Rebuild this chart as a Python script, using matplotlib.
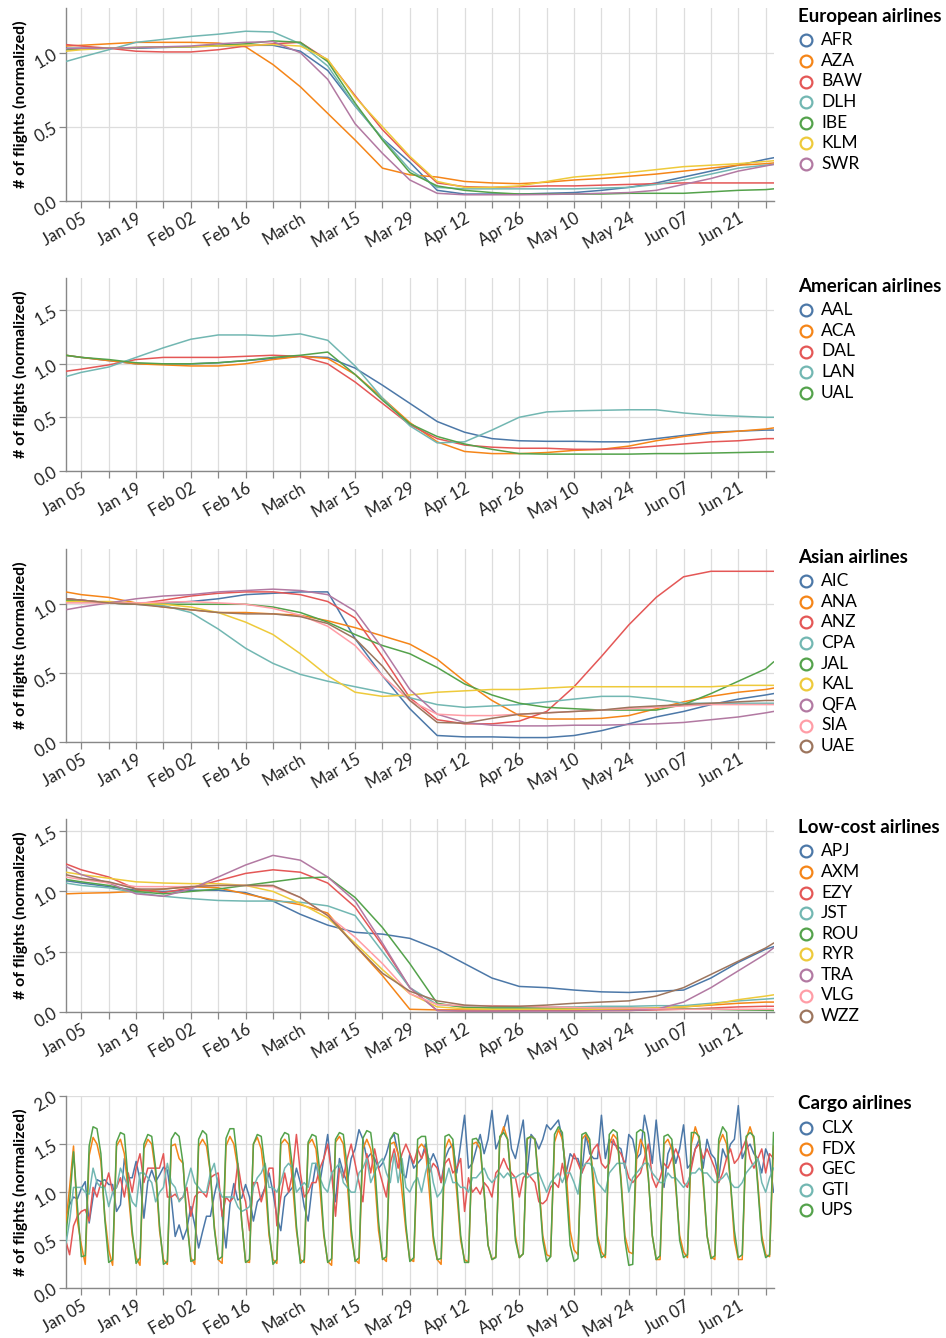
import numpy as np
import matplotlib
matplotlib.use("Agg")
import matplotlib.pyplot as plt
import matplotlib.dates as mdates
from matplotlib.lines import Line2D

plt.rcParams['font.family'] = ['Lato', 'DejaVu Sans']

# ---------------- DATA ----------------
# weekly sample dates (smoothed series)
SAMPLE_DATES = ['2020-01-01', '2020-01-05', '2020-01-12', '2020-01-19', '2020-01-26',
                '2020-02-02', '2020-02-09', '2020-02-16', '2020-02-23', '2020-03-01',
                '2020-03-08', '2020-03-15', '2020-03-22', '2020-03-29', '2020-04-05',
                '2020-04-12', '2020-04-19', '2020-04-26', '2020-05-03', '2020-05-10',
                '2020-05-17', '2020-05-24', '2020-05-31', '2020-06-07', '2020-06-14',
                '2020-06-21', '2020-06-28', '2020-06-30']

# European airlines
AFR = [1.03, 1.03, 1.03, 1.03, 1.035, 1.04, 1.045, 1.05, 1.05, 1.01, 0.88, 0.64, 0.42, 0.26, 0.07, 0.045, 0.045, 0.045, 0.05, 0.055, 0.07, 0.09, 0.12, 0.16, 0.20, 0.24, 0.28, 0.29]
AZA = [1.045, 1.05, 1.06, 1.07, 1.07, 1.07, 1.065, 1.04, 0.92, 0.77, 0.59, 0.41, 0.22, 0.175, 0.16, 0.13, 0.12, 0.115, 0.125, 0.14, 0.15, 0.165, 0.18, 0.20, 0.22, 0.24, 0.25, 0.255]
BAW = [1.055, 1.045, 1.03, 1.01, 1.005, 1.005, 1.02, 1.045, 1.06, 1.07, 0.95, 0.71, 0.48, 0.29, 0.12, 0.095, 0.09, 0.095, 0.10, 0.10, 0.105, 0.11, 0.115, 0.12, 0.12, 0.12, 0.12, 0.12]
DLH = [0.94, 0.97, 1.02, 1.07, 1.09, 1.11, 1.125, 1.145, 1.14, 1.06, 0.91, 0.64, 0.42, 0.21, 0.09, 0.08, 0.08, 0.08, 0.08, 0.08, 0.085, 0.09, 0.11, 0.14, 0.18, 0.22, 0.24, 0.245]
IBE = [1.02, 1.025, 1.03, 1.035, 1.04, 1.04, 1.05, 1.06, 1.08, 1.07, 0.94, 0.66, 0.41, 0.19, 0.10, 0.07, 0.055, 0.045, 0.045, 0.045, 0.045, 0.05, 0.05, 0.05, 0.06, 0.07, 0.075, 0.08]
KLM = [1.01, 1.02, 1.03, 1.035, 1.04, 1.04, 1.045, 1.05, 1.055, 1.045, 0.955, 0.70, 0.50, 0.30, 0.13, 0.09, 0.09, 0.10, 0.13, 0.16, 0.175, 0.19, 0.21, 0.23, 0.24, 0.25, 0.265, 0.27]
SWR = [1.027, 1.03, 1.03, 1.035, 1.04, 1.045, 1.06, 1.07, 1.075, 1.0, 0.82, 0.52, 0.32, 0.14, 0.05, 0.04, 0.04, 0.04, 0.042, 0.045, 0.05, 0.055, 0.07, 0.11, 0.15, 0.20, 0.235, 0.245]

# American airlines
AAL = [1.08, 1.06, 1.03, 1.0, 1.0, 1.0, 1.01, 1.03, 1.05, 1.07, 1.06, 0.96, 0.80, 0.63, 0.46, 0.36, 0.30, 0.28, 0.275, 0.275, 0.27, 0.27, 0.30, 0.33, 0.36, 0.37, 0.38, 0.38]
ACA = [1.08, 1.06, 1.03, 1.0, 0.99, 0.98, 0.98, 1.0, 1.04, 1.07, 1.05, 0.90, 0.68, 0.45, 0.27, 0.18, 0.16, 0.16, 0.17, 0.19, 0.20, 0.23, 0.28, 0.32, 0.35, 0.37, 0.39, 0.40]
DAL = [0.93, 0.95, 0.99, 1.04, 1.06, 1.06, 1.06, 1.07, 1.08, 1.07, 1.0, 0.83, 0.63, 0.43, 0.30, 0.24, 0.22, 0.21, 0.21, 0.20, 0.20, 0.21, 0.23, 0.25, 0.27, 0.28, 0.30, 0.30]
LAN = [0.88, 0.92, 0.97, 1.06, 1.15, 1.23, 1.27, 1.27, 1.26, 1.28, 1.22, 0.98, 0.68, 0.42, 0.26, 0.27, 0.38, 0.50, 0.55, 0.56, 0.565, 0.57, 0.57, 0.54, 0.52, 0.51, 0.50, 0.50]
UAL = [1.08, 1.06, 1.04, 1.01, 1.0, 1.0, 1.01, 1.03, 1.06, 1.08, 1.11, 0.90, 0.66, 0.44, 0.32, 0.25, 0.20, 0.16, 0.155, 0.155, 0.155, 0.155, 0.16, 0.16, 0.165, 0.17, 0.175, 0.175]

# Asian airlines
AIC = [1.04, 1.03, 1.01, 1.0, 1.01, 1.02, 1.04, 1.07, 1.08, 1.09, 1.09, 0.75, 0.48, 0.24, 0.045, 0.035, 0.035, 0.03, 0.03, 0.045, 0.08, 0.13, 0.18, 0.22, 0.27, 0.31, 0.34, 0.35]
ANA = [1.09, 1.07, 1.05, 1.01, 0.98, 0.96, 0.94, 0.94, 0.93, 0.92, 0.88, 0.83, 0.77, 0.71, 0.60, 0.44, 0.30, 0.19, 0.165, 0.165, 0.17, 0.19, 0.24, 0.29, 0.33, 0.36, 0.38, 0.39]
ANZ = [1.04, 1.03, 1.01, 1.0, 1.03, 1.06, 1.08, 1.09, 1.09, 1.07, 1.02, 0.90, 0.62, 0.32, 0.16, 0.13, 0.13, 0.15, 0.22, 0.40, 0.62, 0.85, 1.05, 1.20, 1.24, 1.24, 1.24, 1.24]
CPA = [1.02, 1.02, 1.01, 1.0, 0.99, 0.94, 0.82, 0.68, 0.57, 0.49, 0.44, 0.40, 0.36, 0.32, 0.27, 0.25, 0.26, 0.27, 0.29, 0.31, 0.33, 0.33, 0.31, 0.28, 0.28, 0.28, 0.28, 0.28]
JAL = [1.03, 1.02, 1.01, 1.0, 1.0, 1.0, 1.0, 1.0, 0.98, 0.94, 0.87, 0.78, 0.70, 0.64, 0.54, 0.42, 0.34, 0.28, 0.25, 0.24, 0.23, 0.23, 0.23, 0.27, 0.35, 0.44, 0.53, 0.58]
KAL = [1.02, 1.02, 1.02, 1.01, 1.0, 0.98, 0.94, 0.87, 0.78, 0.64, 0.48, 0.36, 0.33, 0.34, 0.36, 0.37, 0.38, 0.38, 0.39, 0.40, 0.40, 0.40, 0.40, 0.40, 0.40, 0.41, 0.41, 0.41]
QFA = [0.96, 0.98, 1.01, 1.04, 1.06, 1.07, 1.09, 1.10, 1.11, 1.10, 1.07, 0.95, 0.68, 0.38, 0.20, 0.14, 0.12, 0.115, 0.115, 0.12, 0.12, 0.125, 0.13, 0.14, 0.16, 0.18, 0.21, 0.22]
SIA = [1.01, 1.01, 1.01, 1.01, 1.015, 1.02, 1.01, 1.0, 0.97, 0.92, 0.84, 0.70, 0.48, 0.30, 0.20, 0.19, 0.19, 0.20, 0.21, 0.22, 0.23, 0.24, 0.25, 0.26, 0.27, 0.27, 0.27, 0.27]
UAE = [1.04, 1.03, 1.01, 1.0, 0.98, 0.96, 0.94, 0.93, 0.93, 0.91, 0.86, 0.75, 0.55, 0.30, 0.14, 0.135, 0.17, 0.20, 0.21, 0.22, 0.23, 0.25, 0.26, 0.27, 0.28, 0.29, 0.30, 0.30]

# Low-cost airlines
APJ = [1.09, 1.07, 1.04, 1.01, 1.0, 1.01, 1.01, 0.99, 0.92, 0.81, 0.72, 0.66, 0.645, 0.61, 0.52, 0.40, 0.28, 0.21, 0.20, 0.18, 0.165, 0.16, 0.17, 0.18, 0.28, 0.41, 0.52, 0.54]
AXM = [0.98, 0.985, 0.99, 1.0, 1.02, 1.04, 1.03, 0.98, 0.93, 0.89, 0.82, 0.55, 0.30, 0.02, 0.015, 0.015, 0.015, 0.015, 0.015, 0.015, 0.02, 0.02, 0.03, 0.04, 0.055, 0.07, 0.08, 0.08]
EZY = [1.23, 1.18, 1.12, 1.02, 0.99, 1.03, 1.09, 1.15, 1.18, 1.16, 1.07, 0.87, 0.55, 0.20, 0.01, 0.005, 0.005, 0.008, 0.01, 0.01, 0.01, 0.01, 0.015, 0.02, 0.03, 0.04, 0.045, 0.045]
JST = [1.07, 1.05, 1.03, 0.99, 0.96, 0.94, 0.925, 0.92, 0.92, 0.91, 0.88, 0.80, 0.50, 0.20, 0.06, 0.04, 0.035, 0.035, 0.04, 0.04, 0.045, 0.045, 0.05, 0.05, 0.07, 0.09, 0.105, 0.11]
ROU = [1.10, 1.08, 1.05, 1.0, 0.98, 1.0, 1.02, 1.05, 1.08, 1.11, 1.12, 0.95, 0.70, 0.40, 0.07, 0.035, 0.03, 0.03, 0.03, 0.03, 0.03, 0.03, 0.028, 0.025, 0.02, 0.015, 0.012, 0.01]
RYR = [1.16, 1.14, 1.11, 1.08, 1.07, 1.065, 1.065, 1.05, 1.0, 0.90, 0.78, 0.57, 0.35, 0.15, 0.04, 0.025, 0.02, 0.02, 0.02, 0.02, 0.022, 0.025, 0.03, 0.04, 0.06, 0.10, 0.13, 0.14]
TRA = [1.21, 1.14, 1.07, 0.98, 0.96, 1.02, 1.12, 1.22, 1.30, 1.26, 1.12, 0.92, 0.57, 0.20, 0.01, 0.005, 0.005, 0.005, 0.005, 0.005, 0.008, 0.01, 0.02, 0.08, 0.20, 0.34, 0.48, 0.53]
VLG = [1.12, 1.10, 1.07, 1.04, 1.04, 1.04, 1.05, 1.05, 1.04, 0.95, 0.80, 0.62, 0.40, 0.15, 0.06, 0.05, 0.05, 0.045, 0.04, 0.035, 0.03, 0.03, 0.025, 0.02, 0.02, 0.02, 0.02, 0.02]
WZZ = [1.14, 1.11, 1.08, 1.02, 1.02, 1.04, 1.05, 1.05, 1.05, 0.95, 0.80, 0.55, 0.32, 0.17, 0.09, 0.055, 0.045, 0.045, 0.055, 0.07, 0.08, 0.09, 0.13, 0.20, 0.31, 0.42, 0.53, 0.57]

# Cargo airlines: daily values, 2020-01-01 .. 2020-06-30
CARGO_START = '2020-01-01'
CARGO_END = '2020-07-01'
CLX = [0.75, 0.87, 0.95, 0.93, 1.04, 1.11, 0.68,
       0.95, 1.13, 1.11, 1.13, 1.08, 1.08, 0.80,
       0.87, 1.35, 1.15, 1.15, 1.32, 1.13, 0.73,
       1.11, 1.23, 1.11, 1.18, 1.26, 1.23, 0.94,
       0.54, 0.66, 0.51, 0.62, 0.85, 0.66, 0.42,
       0.59, 0.75, 0.75, 0.97, 1.15, 0.76, 0.42,
       0.87, 1.09, 0.92, 0.94, 1.08, 0.95, 0.70,
       0.90, 0.95, 1.05, 1.20, 1.00, 0.75, 0.60,
       0.95, 1.00, 1.05, 1.25, 1.10, 0.85, 0.70,
       1.05, 1.30, 1.10, 1.35, 1.60, 1.20, 0.90,
       1.35, 1.20, 1.10, 1.35, 1.45, 1.65, 1.55,
       1.35, 1.40, 1.35, 1.25, 1.30, 1.40, 1.55,
       1.60, 1.40, 1.20, 1.15, 1.40, 1.25, 1.30,
       1.35, 1.50, 1.30, 1.40, 1.30, 1.10, 1.35,
       1.45, 1.50, 1.20, 1.50, 1.80, 1.25, 1.30,
       1.45, 1.60, 1.40, 1.55, 1.85, 1.45, 1.55,
       1.65, 1.80, 1.45, 1.35, 1.55, 1.75, 1.20,
       1.60, 1.55, 1.45, 1.55, 1.70, 1.65, 1.70,
       1.75, 1.55, 1.20, 1.40, 1.35, 1.35, 1.20,
       1.60, 1.40, 1.35, 1.35, 1.80, 1.35, 1.55,
       1.50, 1.48, 1.45, 1.25, 1.60, 1.55, 1.35,
       1.40, 1.80, 1.60, 1.30, 1.75, 1.35, 1.05,
       1.40, 1.50, 1.30, 1.45, 1.70, 1.25, 1.30,
       1.45, 1.55, 1.25, 1.55, 1.40, 1.35, 1.15,
       1.45, 1.35, 1.50, 1.55, 1.90, 1.35, 1.45,
       1.50, 1.40, 1.35, 1.20, 1.45, 1.35, 1.00]
FDX = [0.66, 1.05, 1.48, 0.70,
       0.45, 0.25, 1.38, 1.57, 1.50, 1.32, 0.75,
       0.40, 0.24, 1.48, 1.55, 1.40, 1.00, 0.55,
       0.32, 0.24, 1.45, 1.55, 1.50, 1.20, 0.60,
       0.30, 0.25, 1.48, 1.50, 1.35, 1.30, 0.70,
       0.32, 0.25, 1.48, 1.55, 1.48, 1.20, 0.65,
       0.30, 0.26, 1.48, 1.58, 1.50, 1.25, 0.70,
       0.28, 0.27, 1.50, 1.57, 1.45, 1.10, 0.55,
       0.30, 0.26, 1.50, 1.55, 1.50, 1.10, 0.60,
       0.30, 0.27, 1.50, 1.55, 1.45, 1.05, 0.55,
       0.28, 0.24, 1.52, 1.58, 1.50, 1.10, 0.55,
       0.30, 0.26, 1.45, 1.55, 1.45, 1.15, 0.60,
       0.32, 0.28, 1.50, 1.52, 1.40, 1.00, 0.60,
       0.30, 0.28, 1.45, 1.50, 1.45, 1.00, 0.50,
       0.30, 0.25, 1.45, 1.55, 1.45, 1.00, 0.50,
       0.30, 0.27, 1.50, 1.52, 1.45, 1.00, 0.45,
       0.30, 0.33, 1.55, 1.68, 1.55, 1.10, 0.55,
       0.32, 0.36, 1.55, 1.58, 1.55, 1.10, 0.55,
       0.35, 0.33, 1.52, 1.65, 1.55, 1.20, 0.60,
       0.40, 0.35, 1.55, 1.60, 1.50, 1.15, 0.55,
       0.38, 0.32, 1.50, 1.60, 1.55, 1.15, 0.55,
       0.38, 0.36, 1.35, 1.55, 1.45, 1.15, 0.55,
       0.30, 0.30, 1.50, 1.55, 1.45, 1.05, 0.55,
       0.38, 0.32, 1.50, 1.68, 1.55, 1.10, 0.55,
       0.33, 0.30, 1.50, 1.60, 1.50, 1.10, 0.50,
       0.30, 0.30, 1.55, 1.68, 1.55, 1.10, 0.55,
       0.35, 0.33, 1.48]
GEC = [0.50, 0.35, 0.65, 0.75, 0.80, 0.82, 0.70,
       1.05, 0.95, 1.10, 1.05, 1.20, 1.00, 1.05,
       1.15, 0.95, 1.20, 1.00, 1.25, 1.40, 1.10,
       1.25, 1.25, 1.25, 1.25, 1.40, 0.95, 0.95,
       0.98, 0.92, 0.95, 1.05, 0.75, 0.95, 1.00,
       1.00, 0.95, 1.15, 1.18, 1.20, 0.75, 0.95,
       0.90, 0.95, 1.30, 1.05, 0.90, 0.60, 1.10,
       1.10, 0.90, 1.05, 1.25, 1.25, 0.65, 0.95,
       1.20, 1.00, 1.20, 1.60, 1.20, 0.95, 1.00,
       1.10, 1.10, 1.25, 1.35, 1.50, 1.20, 0.75,
       1.25, 1.15, 1.35, 1.50, 1.30, 1.10, 0.90,
       1.40, 1.20, 1.45, 1.25, 1.10, 0.95, 1.30,
       1.45, 1.25, 1.40, 1.50, 1.40, 1.30, 1.45,
       1.35, 1.45, 1.20, 1.30, 1.25, 1.10, 1.30,
       1.35, 1.20, 1.25, 1.35, 0.80, 1.15, 1.00,
       1.05, 0.98, 1.10, 1.05, 0.95, 1.20, 1.25,
       1.35, 1.25, 1.20, 1.15, 0.95, 1.15, 1.20,
       1.15, 1.10, 0.90, 0.88, 0.92, 1.05, 1.10,
       1.05, 1.30, 1.10, 1.25, 1.40, 1.30, 1.20,
       1.30, 1.35, 1.45, 1.50, 1.30, 1.25, 1.30,
       1.55, 1.45, 1.40, 1.30, 1.15, 1.10, 1.15,
       1.20, 1.35, 1.50, 1.15, 1.05, 1.15, 1.30,
       1.25, 1.35, 1.45, 1.35, 1.10, 1.05, 1.25,
       1.45, 1.50, 1.35, 1.45, 1.35, 1.25, 1.10,
       1.20, 1.35, 1.45, 1.30, 1.35, 1.45, 1.55,
       1.35, 1.25, 1.35, 1.45, 1.20, 1.40, 1.35]
GTI = [0.45, 0.70, 1.05, 1.05, 1.05, 1.00, 0.98,
       1.25, 1.10, 1.05, 1.05, 0.85, 1.00, 1.05,
       1.25, 1.15, 1.05, 0.90, 0.85, 1.20, 1.20,
       1.15, 1.10, 0.90, 1.00, 1.05, 1.30, 1.10,
       1.05, 0.90, 0.95, 1.10, 1.25, 1.10, 1.05,
       1.00, 1.00, 1.20, 1.30, 1.05, 0.95, 0.95,
       0.95, 0.95, 0.85, 0.80, 0.82, 0.85, 1.05,
       1.15, 1.20, 1.30, 1.05, 1.05, 1.00, 1.10,
       1.25, 1.30, 1.25, 1.00, 1.05, 1.10, 1.05,
       1.30, 1.30, 1.15, 1.05, 1.00, 1.20, 1.25,
       1.30, 1.10, 1.05, 1.00, 1.00, 1.20, 1.25,
       1.35, 1.10, 1.20, 1.30, 1.35, 1.20, 1.10,
       1.40, 1.10, 1.35, 1.05, 1.00, 1.10, 1.15,
       1.00, 1.20, 1.35, 1.10, 0.95, 1.00, 1.10,
       1.25, 1.10, 1.10, 1.05, 1.05, 1.00, 1.15,
       1.15, 1.20, 1.25, 1.15, 1.10, 1.15, 1.20,
       1.15, 1.20, 1.15, 1.15, 1.18, 1.20, 1.15,
       1.18, 1.20, 1.20, 1.10, 1.00, 1.10, 1.15,
       1.20, 1.10, 1.20, 1.20, 1.10, 0.98, 1.25,
       1.30, 1.30, 1.25, 1.10, 1.05, 1.00, 1.20,
       1.25, 1.30, 1.30, 1.30, 1.00, 1.15, 1.20,
       1.25, 1.30, 1.30, 1.20, 1.15, 1.10, 1.10,
       1.20, 1.15, 1.15, 1.10, 1.05, 1.10, 1.20,
       1.20, 1.25, 1.20, 1.20, 1.15, 1.10, 1.12,
       1.15, 1.20, 1.10, 1.05, 1.05, 1.10, 1.20,
       1.25, 1.30, 1.35, 1.10, 1.00, 1.15, 1.25]
UPS = [0.55, 0.90, 1.42, 0.85,
       0.33, 0.34, 1.48, 1.68, 1.66, 1.40, 0.72,
       0.27, 0.30, 1.52, 1.62, 1.60, 1.10, 0.60,
       0.26, 0.32, 1.50, 1.60, 1.58, 1.25, 0.65,
       0.25, 0.28, 1.55, 1.62, 1.58, 1.30, 0.70,
       0.28, 0.30, 1.55, 1.64, 1.60, 1.20, 0.62,
       0.30, 0.33, 1.56, 1.66, 1.66, 1.30, 0.70,
       0.27, 0.30, 1.50, 1.60, 1.58, 1.25, 0.60,
       0.25, 0.30, 1.55, 1.62, 1.60, 1.25, 0.65,
       0.26, 0.30, 1.52, 1.60, 1.58, 1.20, 0.58,
       0.27, 0.31, 1.55, 1.62, 1.60, 1.25, 0.62,
       0.28, 0.32, 1.56, 1.64, 1.62, 1.30, 0.70,
       0.30, 0.33, 1.55, 1.62, 1.60, 1.25, 0.66,
       0.28, 0.32, 1.55, 1.58, 1.58, 1.20, 0.55,
       0.30, 0.31, 1.58, 1.60, 1.55, 1.10, 0.55,
       0.27, 0.27, 1.55, 1.56, 1.50, 1.00, 0.45,
       0.30, 0.32, 1.58, 1.62, 1.55, 1.05, 0.50,
       0.32, 0.36, 1.56, 1.58, 1.55, 1.05, 0.50,
       0.28, 0.33, 1.60, 1.68, 1.62, 1.05, 0.45,
       0.28, 0.31, 1.60, 1.62, 1.55, 1.00, 0.50,
       0.32, 0.35, 1.60, 1.65, 1.62, 1.10, 0.50,
       0.24, 0.25, 1.62, 1.65, 1.62, 1.15, 0.55,
       0.30, 0.34, 1.58, 1.60, 1.55, 1.10, 0.50,
       0.32, 0.35, 1.62, 1.62, 1.58, 1.15, 0.55,
       0.31, 0.34, 1.55, 1.68, 1.62, 1.10, 0.60,
       0.32, 0.35, 1.58, 1.62, 1.58, 1.05, 0.50,
       0.32, 0.35, 1.62]

# panel definitions
PANEL_TITLES = ['European airlines', 'American airlines', 'Asian airlines',
                'Low-cost airlines', 'Cargo airlines']
PANEL_CODES = [['AFR', 'AZA', 'BAW', 'DLH', 'IBE', 'KLM', 'SWR'],
               ['AAL', 'ACA', 'DAL', 'LAN', 'UAL'],
               ['AIC', 'ANA', 'ANZ', 'CPA', 'JAL', 'KAL', 'QFA', 'SIA', 'UAE'],
               ['APJ', 'AXM', 'EZY', 'JST', 'ROU', 'RYR', 'TRA', 'VLG', 'WZZ'],
               ['CLX', 'FDX', 'GEC', 'GTI', 'UPS']]
PANEL_SERIES = [[AFR, AZA, BAW, DLH, IBE, KLM, SWR],
                [AAL, ACA, DAL, LAN, UAL],
                [AIC, ANA, ANZ, CPA, JAL, KAL, QFA, SIA, UAE],
                [APJ, AXM, EZY, JST, ROU, RYR, TRA, VLG, WZZ],
                [CLX, FDX, GEC, GTI, UPS]]
PANEL_YMAX = [1.3, 1.8, 1.4, 1.6, 2.0]
PANEL_YTICKS = [[0.0, 0.5, 1.0], [0.0, 0.5, 1.0, 1.5], [0.0, 0.5, 1.0],
                [0.0, 0.5, 1.0, 1.5], [0.0, 0.5, 1.0, 1.5, 2.0]]

# x ticks (weekly, labelled every two weeks)
TICK_DATES = ['2020-01-05', '2020-01-12', '2020-01-19', '2020-01-26', '2020-02-02',
              '2020-02-09', '2020-02-16', '2020-02-23', '2020-03-01', '2020-03-08',
              '2020-03-15', '2020-03-22', '2020-03-29', '2020-04-05', '2020-04-12',
              '2020-04-19', '2020-04-26', '2020-05-03', '2020-05-10', '2020-05-17',
              '2020-05-24', '2020-05-31', '2020-06-07', '2020-06-14', '2020-06-21',
              '2020-06-28']
TICK_LABELS = ['Jan 05', '', 'Jan 19', '', 'Feb 02', '', 'Feb 16', '', 'March', '',
               'Mar 15', '', 'Mar 29', '', 'Apr 12', '', 'Apr 26', '', 'May 10', '',
               'May 24', '', 'Jun 07', '', 'Jun 21', '']

COLORS = ['#4c78a8', '#f58518', '#e45756', '#72b7b2', '#54a24b',
          '#eeca3b', '#b279a2', '#ff9da6', '#9d755d', '#bab0ac']

# ---------------- PLOT ----------------
W, H = 946, 1338
fig = plt.figure(figsize=(W / 100, H / 100), dpi=100)

PLOT_LEFT, PLOT_RIGHT = 65.7, 773.5
PANEL_TOPS = [8.3, 278.3, 549.3, 819.3, 1096.0]
PANEL_H = 192.4

smooth_x = mdates.date2num(np.array(SAMPLE_DATES, dtype='datetime64[D]'))
daily_x = mdates.date2num(np.arange(np.datetime64(CARGO_START), np.datetime64(CARGO_END),
                                    dtype='datetime64[D]'))
tick_x = mdates.date2num(np.array(TICK_DATES, dtype='datetime64[D]'))
xmin = mdates.date2num(np.datetime64('2020-01-01'))
xmax = mdates.date2num(np.datetime64('2020-06-30'))

GRID = '#dddddd'
AXC = '#888888'

for i in range(5):
    top = PANEL_TOPS[i]
    ax = fig.add_axes([PLOT_LEFT / W, 1 - (top + PANEL_H) / H,
                       (PLOT_RIGHT - PLOT_LEFT) / W, PANEL_H / H])
    xs = daily_x if i == 4 else smooth_x
    for j, series in enumerate(PANEL_SERIES[i]):
        ax.plot(xs, series, color=COLORS[j], lw=1.1, solid_joinstyle='round', zorder=3)
    ax.set_xlim(xmin, xmax)
    ax.set_ylim(0, PANEL_YMAX[i])
    ax.set_xticks(tick_x)
    ax.set_xticklabels(TICK_LABELS)
    ax.set_yticks(PANEL_YTICKS[i])
    ax.set_yticklabels(['%.1f' % v for v in PANEL_YTICKS[i]])
    ax.grid(True, color=GRID, lw=0.9, zorder=0)
    ax.set_axisbelow(True)
    for s in ['top', 'right']:
        ax.spines[s].set_visible(False)
    for s in ['left', 'bottom']:
        ax.spines[s].set_color(AXC)
        ax.spines[s].set_linewidth(1.0)
    ax.tick_params(axis='both', color=AXC, length=5, width=0.9, labelsize=12,
                   labelcolor='#222222', pad=2)
    for lab in ax.get_xticklabels():
        lab.set_rotation(30)
        lab.set_ha('right')
        lab.set_va('top')
        lab.set_rotation_mode('anchor')
    for lab in ax.get_yticklabels():
        lab.set_rotation(30)
        lab.set_ha('right')
        lab.set_va('center')
        lab.set_rotation_mode('anchor')

    # y-axis title
    fig.text(20 / W, 1 - (top + PANEL_H / 2) / H, '# of flights (normalized)',
             rotation=90, ha='center', va='center', fontsize=11.5, fontweight='bold',
             color='#000000')

    # legend
    fig.text(798 / W, 1 - (top + 8) / H, PANEL_TITLES[i], ha='left', va='center',
             fontsize=13.5, fontweight='bold', color='#000000')
    for j, code in enumerate(PANEL_CODES[i]):
        yc = 1 - (top + 32 + 20.6 * j) / H
        fig.add_artist(Line2D([806 / W], [yc], transform=fig.transFigure, marker='o',
                              ms=8.5, mfc='none', mec=COLORS[j], mew=1.6, ls='none'))
        fig.text(821 / W, yc, code, ha='left', va='center', fontsize=12.5, color='#000000')

fig.savefig('out.png', dpi=100)
